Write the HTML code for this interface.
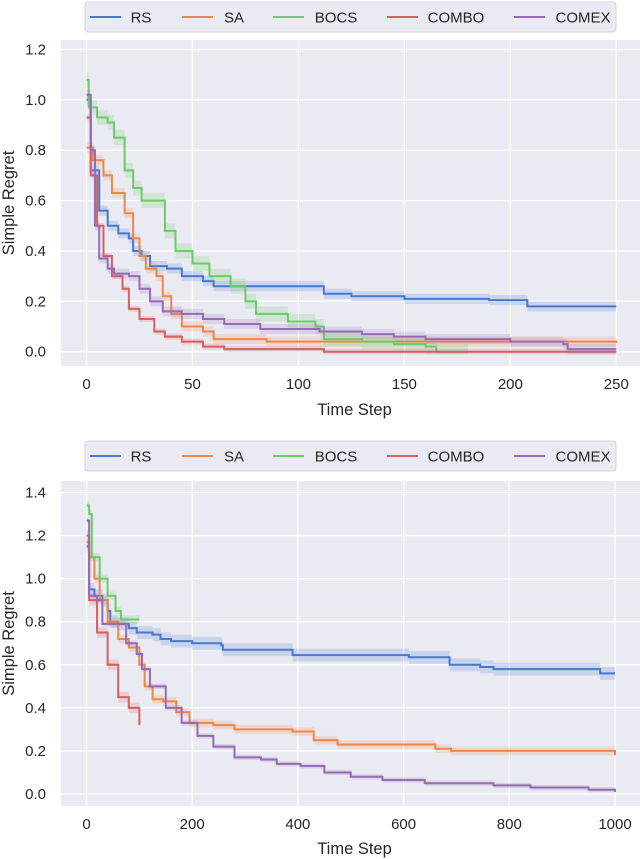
<!DOCTYPE html>
<html><head><meta charset="utf-8">
<style>
body{margin:0;background:#fff;width:640px;height:859px;overflow:hidden;font-family:"Liberation Sans",sans-serif;}
svg{display:block}
</style></head>
<body>
<svg id="chart" width="640" height="859" viewBox="0 0 640 859" xmlns="http://www.w3.org/2000/svg"></svg>
<script>
const names=["RS","SA","BOCS","COMBO","COMEX"];
const colors=["#4878d0","#ee854a","#6acc64","#d65f5f","#956cb4"];
// Top chart data
const topXTicks=[0,50,100,150,200,250];
const topYTicks=[0.0,0.2,0.4,0.6,0.8,1.0,1.2];
const topRS_x=[0,2,6,10,15,20,22,26,30,38,45,55,60,110,112,125,150,190,208,250];
const topRS_y=[1.0,0.72,0.56,0.5,0.47,0.45,0.4,0.38,0.34,0.33,0.30,0.28,0.26,0.26,0.23,0.22,0.21,0.205,0.18,0.18];
const topSA_x=[0,3,8,12,18,22,25,28,33,36,40,45,55,60,85,250];
const topSA_y=[0.81,0.76,0.7,0.63,0.55,0.45,0.38,0.33,0.3,0.22,0.15,0.1,0.08,0.05,0.04,0.035];
const topBOCS_x=[0,1,5,10,13,18,22,26,33,37,42,50,58,68,75,80,95,108,112,130,145,160,165,180];
const topBOCS_y=[1.08,0.97,0.93,0.91,0.85,0.72,0.65,0.6,0.6,0.48,0.4,0.35,0.3,0.26,0.2,0.15,0.12,0.1,0.05,0.04,0.03,0.02,0.0,0.0];
const topCOMBO_x=[0,2,5,8,12,17,20,25,32,37,45,55,65,110,112,250];
const topCOMBO_y=[0.93,0.7,0.5,0.38,0.3,0.25,0.17,0.13,0.08,0.06,0.04,0.02,0.01,0.01,0.0,0.0];
const topCOMEX_x=[0,2,4,6,10,13,20,25,30,36,45,55,65,82,110,130,145,160,200,225,227,250];
const topCOMEX_y=[1.02,0.8,0.5,0.37,0.33,0.31,0.3,0.25,0.2,0.16,0.15,0.13,0.11,0.09,0.08,0.07,0.06,0.05,0.04,0.03,0.01,0.01];
const topBands=[0.02,0.02,0.03,0.012,0.02];
// Bottom chart data
const botXTicks=[0,200,400,600,800,1000];
const botYTicks=[0.0,0.2,0.4,0.6,0.8,1.0,1.2,1.4];
const botRS_x=[0,5,15,30,40,45,60,80,95,125,140,160,200,255,258,385,390,600,610,685,687,740,745,770,970,972,1000];
const botRS_y=[1.15,0.95,0.92,0.9,0.85,0.8,0.79,0.77,0.75,0.74,0.72,0.71,0.70,0.69,0.67,0.67,0.645,0.645,0.635,0.635,0.6,0.6,0.59,0.58,0.58,0.56,0.56];
const botSA_x=[0,5,15,25,40,60,80,100,110,125,145,170,195,240,280,390,430,475,600,660,690,970,1000];
const botSA_y=[1.17,1.1,1.0,0.9,0.8,0.72,0.68,0.6,0.5,0.44,0.43,0.38,0.33,0.32,0.3,0.29,0.25,0.23,0.23,0.21,0.2,0.2,0.18];
const botBOCS_x=[0,5,10,25,40,55,65,100];
const botBOCS_y=[1.34,1.3,1.1,1.0,0.92,0.85,0.81,0.81];
const botCOMBO_x=[0,5,20,40,60,80,100];
const botCOMBO_y=[1.2,0.9,0.75,0.6,0.45,0.4,0.32];
const botCOMEX_x=[0,5,20,30,60,75,95,105,120,150,180,210,240,280,330,360,405,450,500,560,640,770,840,950,1000];
const botCOMEX_y=[1.27,0.92,0.9,0.79,0.79,0.7,0.65,0.58,0.5,0.4,0.33,0.27,0.22,0.17,0.16,0.14,0.13,0.1,0.08,0.065,0.05,0.04,0.03,0.02,0.01];
const botBands=[0.03,0.02,0.02,0.025,0.012];

const NS="http://www.w3.org/2000/svg";
const svg=document.getElementById('chart');
function el(tag,attrs,parent){const e=document.createElementNS(NS,tag);for(const k in attrs)e.setAttribute(k,attrs[k]);(parent||svg).appendChild(e);return e;}

function drawChart(cfg){
  const g=el('g',{});
  
  
  const sx=v=>cfg.x0+(v-cfg.xmin)/(cfg.xmax-cfg.xmin)*(cfg.x1-cfg.x0);
  const sy=v=>cfg.y0+(v-cfg.ymin)/(cfg.ymax-cfg.ymin)*(cfg.y1-cfg.y0);
  const bg=el('rect',{x:cfg.bx0,y:cfg.by0,width:cfg.bx1-cfg.bx0,height:cfg.by1-cfg.by0,fill:'#eaeaf2'},g);
  
  
  cfg.xticks.forEach(t=>{
    el('line',{x1:sx(t),x2:sx(t),y1:cfg.by0,y2:cfg.by1,stroke:'#fff','stroke-width':1.3},g);
    const tx=el('text',{x:sx(t),y:cfg.by1+23,'text-anchor':'middle','font-size':15,fill:'#262626'},g);
    tx.textContent=t;
    
    
  });
  cfg.yticks.forEach(t=>{
    el('line',{x1:cfg.bx0,x2:cfg.bx1,y1:sy(t),y2:sy(t),stroke:'#fff','stroke-width':1.3},g);
    const ty=el('text',{x:cfg.bx0-15,y:sy(t)+5,'text-anchor':'end','font-size':15,fill:'#262626'},g);
    ty.textContent=t.toFixed(1);
    
    
  });
  cfg.series.forEach((s,i)=>{
    const pts=[];
    for(let k=0;k<s.x.length;k++){
      if(k>0)pts.push([s.x[k],s.y[k-1]]);
      pts.push([s.x[k],s.y[k]]);
    }
    const b=cfg.bands[i];
    const up=pts.map(p=>sx(p[0])+','+sy(p[1]+b)).join(' ');
    const dn=pts.slice().reverse().map(p=>sx(p[0])+','+sy(Math.max(p[1]-b,-0.01))).join(' ');
    const band=el('polygon',{points:up+' '+dn,fill:colors[i],'fill-opacity':0.2,stroke:'none'},g);
    
    
    const line=el('polyline',{points:pts.map(p=>sx(p[0])+','+sy(p[1])).join(' '),fill:'none',stroke:colors[i],'stroke-width':2},g);
    
    
  });
  const xl=el('text',{x:(cfg.bx0+cfg.bx1)/2+4,y:cfg.xlabelY,'text-anchor':'middle','font-size':16.5,fill:'#262626'},g);
  xl.textContent='Time Step';
  
  
  const ymid=(cfg.by0+cfg.by1)/2;
  const yl=el('text',{x:14,y:ymid,'text-anchor':'middle','font-size':16.5,fill:'#262626',transform:'rotate(-90 14 '+ymid+')'},g);
  yl.textContent='Simple Regret';
  
  
  const lg=el('g',{},g);
  
  
  el('rect',{x:85,y:cfg.ly,width:531,height:30,rx:3,fill:'#eaeaf2',stroke:'#d6d6de','stroke-width':1},lg);
  const lx=[90,182,273,387,514];
  const tx=[141,234,336,456,583];
  names.forEach((n,i)=>{
    const e=el('g',{},lg);
    
    
    el('line',{x1:lx[i],x2:lx[i]+31,y1:cfg.ly+15,y2:cfg.ly+15,stroke:colors[i],'stroke-width':2},e);
    const t=el('text',{x:tx[i],y:cfg.ly+20.5,'text-anchor':'middle','font-size':15,fill:'#262626'},e);
    t.textContent=n;
  });
}

drawChart({prefix:'top',xmin:0,xmax:250,ymin:0,ymax:1.2,x0:86.5,x1:616.3,y0:351.7,y1:49.5,
  bx0:61,bx1:640,by0:40,by1:366,xticks:topXTicks,yticks:topYTicks,xlabelY:415,ly:2,bands:topBands,
  series:[{x:topRS_x,y:topRS_y},{x:topSA_x,y:topSA_y},{x:topBOCS_x,y:topBOCS_y},{x:topCOMBO_x,y:topCOMBO_y},{x:topCOMEX_x,y:topCOMEX_y}]});
drawChart({prefix:'bottom',xmin:0,xmax:1000,ymin:0,ymax:1.4,x0:86.5,x1:615,y0:794,y1:492.5,
  bx0:61,bx1:640,by0:481,by1:806,xticks:botXTicks,yticks:botYTicks,xlabelY:854,ly:441,bands:botBands,
  series:[{x:botRS_x,y:botRS_y},{x:botSA_x,y:botSA_y},{x:botBOCS_x,y:botBOCS_y},{x:botCOMBO_x,y:botCOMBO_y},{x:botCOMEX_x,y:botCOMEX_y}]});
</script>
</body></html>
